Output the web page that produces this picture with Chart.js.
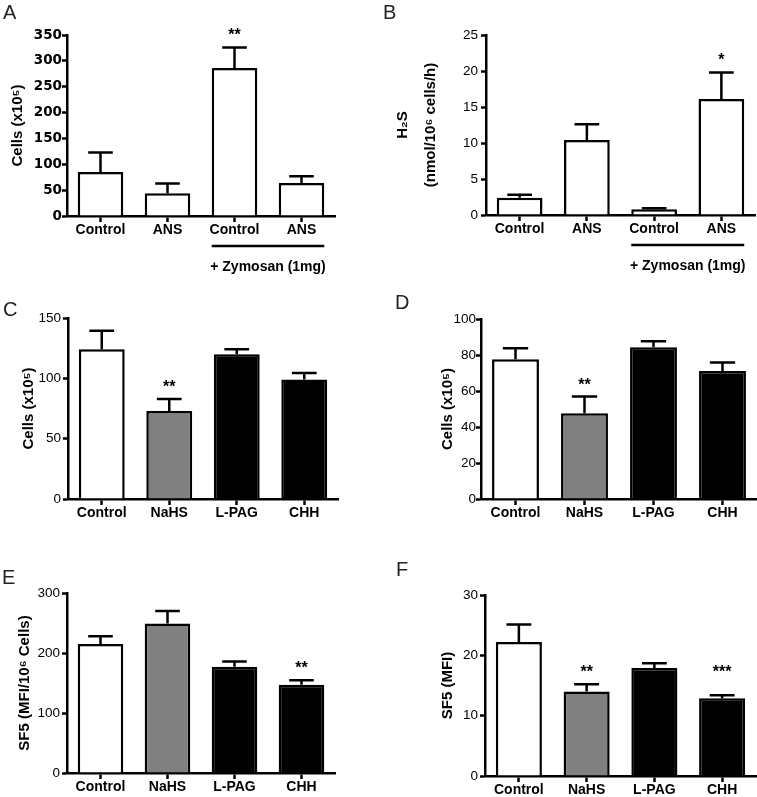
<!DOCTYPE html>
<html><head><meta charset="utf-8">
<script src="https://cdn.jsdelivr.net/npm/chart.js@4"></script>
<style>
html,body{margin:0;padding:0;background:#fff;}
#wrap{position:relative;width:757px;height:797px;overflow:hidden;background:#fff;}
canvas{position:absolute;}
.lbl{position:absolute;font:20px/20px "Liberation Sans",Arial,sans-serif;color:#222;}
</style></head><body>
<div id="wrap">
<canvas id="cA" width="378" height="280" style="left:0;top:0"></canvas>
<canvas id="cB" width="379" height="280" style="left:378px;top:0"></canvas>
<canvas id="cC" width="378" height="260" style="left:0;top:280px"></canvas>
<canvas id="cD" width="379" height="260" style="left:378px;top:280px"></canvas>
<canvas id="cE" width="378" height="257" style="left:0;top:540px"></canvas>
<canvas id="cF" width="379" height="257" style="left:378px;top:540px"></canvas>
<div class="lbl" style="left:3px;top:2px">A</div>
<div class="lbl" style="left:383px;top:2px">B</div>
<div class="lbl" style="left:3px;top:299px">C</div>
<div class="lbl" style="left:395px;top:292px">D</div>
<div class="lbl" style="left:2px;top:567px">E</div>
<div class="lbl" style="left:396px;top:559px">F</div>
</div>
<script>
// ---- data ----
const catsAB = ['Control', 'ANS', 'Control', 'ANS'];
const catsCF = ['Control', 'NaHS', 'L-PAG', 'CHH'];
const groupLabelAB = '+ Zymosan (1mg)';

const aMean = [85, 44, 286, 64];
const aErr  = [38, 19, 40, 13];
const aStars = ['', '', '**', ''];
const aTicks = [0, 50, 100, 150, 200, 250, 300, 350];

const bMean = [2.4, 10.4, 0.8, 16.1];
const bErr  = [0.4, 2.2, 0.15, 3.7];
const bStars = ['', '', '', '*'];
const bTicks = [0, 5, 10, 15, 20, 25];

const cMean = [124, 73, 120, 99];
const cErr  = [15.5, 9.8, 4, 5.4];
const cStars = ['', '**', '', ''];
const cTicks = [0, 50, 100, 150];

const dMean = [77.6, 47.6, 84.3, 71.1];
const dErr  = [6.1, 9.3, 3.3, 4.8];
const dStars = ['', '**', '', ''];
const dTicks = [0, 20, 40, 60, 80, 100];

const eMean = [215, 249, 177, 147];
const eErr  = [13, 21, 9, 7.5];
const eStars = ['', '', '', '**'];
const eTicks = [0, 100, 200, 300];

const fMean = [22.2, 14.0, 17.9, 12.9];
const fErr  = [2.9, 1.2, 0.8, 0.5];
const fStars = ['', '**', '', '***'];
const fTicks = [0, 10, 20, 30];

// ---- styling ----
const FAM = '"Liberation Sans", Arial, sans-serif';
const whiteBars = ['#ffffff', '#ffffff', '#ffffff', '#ffffff'];
const treatBars = ['#ffffff', '#808080', '#000000', '#000000'];

const annot = {
  id: 'annot',
  afterDatasetsDraw(chart) {
    const o = chart.options.plugins.annot;
    if (!o) return;
    const ctx = chart.ctx, y = chart.scales.y, meta = chart.getDatasetMeta(0);
    const vals = chart.data.datasets[0].data;
    ctx.save();
    ctx.strokeStyle = '#000'; ctx.lineWidth = 2.5; ctx.lineCap = 'butt';
    const tops = [];
    meta.data.forEach((bar, i) => {
      const yb = y.getPixelForValue(vals[i]);
      const yt = y.getPixelForValue(vals[i] + o.err[i]);
      const hw = bar.width * 0.27;
      ctx.beginPath();
      ctx.moveTo(bar.x, yb); ctx.lineTo(bar.x, yt);
      ctx.moveTo(bar.x - hw, yt); ctx.lineTo(bar.x + hw, yt);
      ctx.stroke();
      tops.push(yt);
    });
    let sy = Infinity;
    o.stars.forEach((s, i) => { if (s) sy = Math.min(sy, tops[i]); });
    ctx.fillStyle = '#000';
    ctx.font = 'bold 16px ' + FAM;
    ctx.textAlign = 'center'; ctx.textBaseline = 'alphabetic';
    o.stars.forEach((s, i) => { if (s) ctx.fillText(s, meta.data[i].x, sy - 7); });
    if (o.group) {
      const b1 = meta.data[o.group.from], b2 = meta.data[o.group.to];
      const x1 = b1.x - b1.width / 2, x2 = b2.x + b2.width / 2;
      const ly = chart.chartArea.bottom + 30;
      ctx.beginPath(); ctx.moveTo(x1, ly); ctx.lineTo(x2, ly); ctx.stroke();
      ctx.font = 'bold 14px ' + FAM; ctx.textBaseline = 'middle';
      ctx.fillText(o.group.label, (x1 + x2) / 2, ly + 21);
    }
    ctx.restore();
  }
};

function makeChart(id, cats, means, errs, stars, ticks, colors, cfg) {
  return new Chart(document.getElementById(id), {
    type: 'bar',
    data: { labels: cats, datasets: [{ data: means, backgroundColor: colors, borderColor: '#000', borderWidth: 2.5, barPercentage: 0.68, categoryPercentage: 1 }] },
    options: {
      responsive: false, animation: false,
      layout: { padding: { top: cfg.top, right: cfg.right, left: 0, bottom: 0 } },
      plugins: { legend: { display: false }, tooltip: { enabled: false },
        annot: { err: errs, stars: stars, group: cfg.group || null } },
      scales: {
        x: {
          z: 1, offset: true,
          grid: { offset: false, drawOnChartArea: false, drawTicks: true, tickLength: 6, tickWidth: 2.5, tickColor: '#000' },
          border: { color: '#000', width: 2.5 },
          ticks: { color: '#000', font: { family: FAM, size: 14, weight: 'bold' }, padding: 0, maxRotation: 0, autoSkip: false },
          afterFit: s => { s.height = cfg.xh; }
        },
        y: {
          z: 1, min: ticks[0], max: ticks[ticks.length - 1],
          afterBuildTicks: s => { s.ticks = ticks.map(v => ({ value: v })); },
          grid: { drawOnChartArea: false, drawTicks: true, tickLength: 5, tickWidth: 2.5, tickColor: '#000' },
          border: { color: '#000', width: 2.5 },
          ticks: { color: '#000', padding: cfg.tp, font: cfg.tickFont },
          title: { display: true, text: cfg.title, color: '#000',
            font: { family: FAM, size: 15, weight: 'bold', lineHeight: cfg.tlh || 1.2 },
            padding: { top: cfg.tpad, bottom: 0 } },
          afterFit: s => { s.width = cfg.yw; }
        }
      }
    },
    plugins: [annot]
  });
}

const normalTick = { family: FAM, size: 13.5 };
const boldTick = { family: '"DejaVu Sans", sans-serif', size: 13.5, weight: 'bold' };

makeChart('cA', catsAB, aMean, aErr, aStars, aTicks, whiteBars,
  { yw: 67, top: 35, right: 43, xh: 64, tp: 0, tickFont: boldTick, title: 'Cells (x10\u2075)', tpad: 9,
    group: { from: 2, to: 3, label: groupLabelAB } });
makeChart('cB', catsAB, bMean, bErr, bStars, bTicks, whiteBars,
  { yw: 108, top: 35, right: 2, xh: 65, tp: 3, tickFont: normalTick, title: ['H\u2082S', '(nmol/10\u2076 cells/h)'], tlh: 1.87, tpad: 11,
    group: { from: 2, to: 3, label: groupLabelAB } });
makeChart('cC', catsCF, cMean, cErr, cStars, cTicks, treatBars,
  { yw: 68, top: 38, right: 40, xh: 41, tp: 2, tickFont: normalTick, title: 'Cells (x10\u2075)', tpad: 20 });
makeChart('cD', catsCF, dMean, dErr, dStars, dTicks, treatBars,
  { yw: 103, top: 39, right: 0, xh: 41, tp: 0, tickFont: normalTick, title: 'Cells (x10\u2075)', tpad: 61 });
makeChart('cE', catsCF, eMean, eErr, eStars, eTicks, treatBars,
  { yw: 67, top: 53, right: 43, xh: 24, tp: 2, tickFont: normalTick, title: 'SF5 (MFI/10\u2076 Cells)', tpad: 16 });
makeChart('cF', catsCF, fMean, fErr, fStars, fTicks, treatBars,
  { yw: 107, top: 55, right: 1, xh: 21, tp: 2, tickFont: normalTick, title: 'SF5 (MFI)', tpad: 61 });
</script>
</body></html>
